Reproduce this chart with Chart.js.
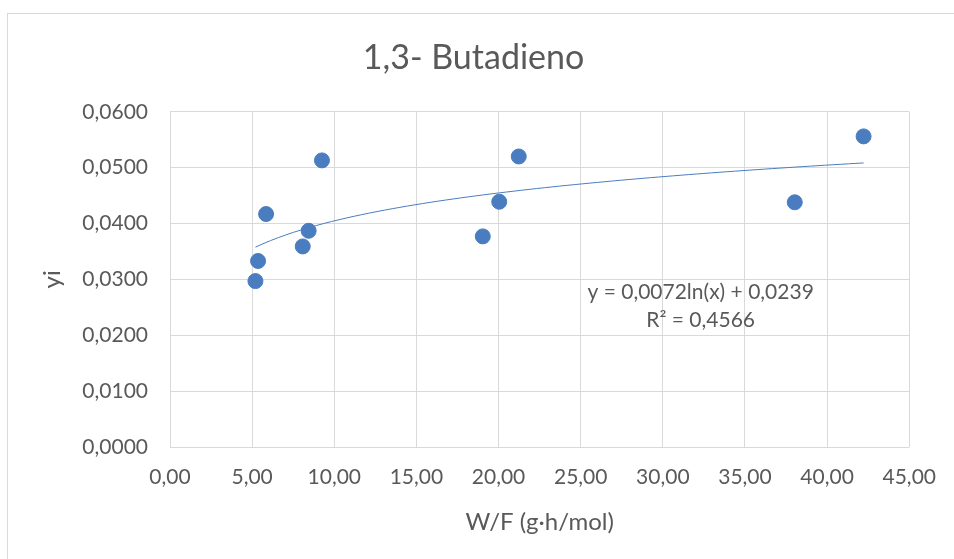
<!DOCTYPE html>
<html>
<head>
<meta charset="utf-8">
<script src="https://cdn.jsdelivr.net/npm/chart.js@4"></script>
<style>
  html, body { margin: 0; padding: 0; background: #fff; }
  #wrap { position: relative; width: 954px; height: 559px; overflow: hidden; }
  #frame { position: absolute; left: 7px; top: 13px; width: 1000px; height: 600px; border: 1px solid #d9d9d9; box-sizing: border-box; }
  canvas { position: absolute; left: 0; top: 0; }
</style>
</head>
<body>
<div id="wrap">
  <div id="frame"></div>
  <canvas id="chart" width="954" height="559"></canvas>
</div>
<script>
// W/F (g·h/mol) against mole fraction of 1,3-butadiene
const wf = [5.20, 5.36, 5.85, 8.08, 8.44, 9.25, 19.04, 20.04, 21.23, 38.03, 42.22];
const yi = [0.0297, 0.0333, 0.0417, 0.0359, 0.0387, 0.0513, 0.0377, 0.0439, 0.0520, 0.0438, 0.0556];

// logarithmic trendline as reported: y = a ln(x) + b
const trendA = 0.0072;
const trendB = 0.0239;
const trendLabel = ['y = 0,0072ln(x) + 0,0239', 'R² = 0,4566'];

const xTicks = [0, 5, 10, 15, 20, 25, 30, 35, 40, 45];
const yTicks = [0, 0.01, 0.02, 0.03, 0.04, 0.05, 0.06];

const FONT = 'Lato, "Open Sans", sans-serif';
const GREY = '#595959';
const BLUE = '#4a7cc0';

const points = wf.map((x, i) => ({ x: x, y: yi[i] }));

const xMin = Math.min(...wf), xMax = Math.max(...wf);
const trend = [];
for (let i = 0; i <= 80; i++) {
  const x = xMin + (xMax - xMin) * i / 80;
  trend.push({ x: x, y: trendA * Math.log(x) + trendB });
}

const comma = (v, d) => v.toFixed(d).replace('.', ',');

// equation text under the curve, right half of the plot
const equationPlugin = {
  id: 'equation',
  afterDatasetsDraw(chart) {
    const { ctx, scales } = chart;
    const cx = scales.x.getPixelForValue(32.3);
    const cy = scales.y.getPixelForValue(0.0277);
    ctx.save();
    ctx.font = '21px ' + FONT;
    ctx.fillStyle = GREY;
    ctx.textAlign = 'center';
    ctx.textBaseline = 'middle';
    ctx.fillText(trendLabel[0], cx, cy);
    ctx.fillText(trendLabel[1], cx, cy + 28);
    ctx.restore();
  }
};

new Chart(document.getElementById('chart'), {
  type: 'scatter',
  data: {
    datasets: [
      {
        label: 'yi',
        data: points,
        backgroundColor: BLUE,
        borderColor: BLUE,
        pointRadius: 7.5,
        pointHoverRadius: 7.5,
        order: 1
      },
      {
        label: 'Log.',
        type: 'line',
        data: trend,
        borderColor: BLUE,
        borderWidth: 1,
        pointRadius: 0,
        fill: false,
        tension: 0,
        order: 2
      }
    ]
  },
  options: {
    responsive: false,
    animation: false,
    layout: { padding: { left: 34, right: 41, top: 0, bottom: 20 } },
    plugins: {
      legend: { display: false },
      tooltip: { enabled: false },
      title: {
        display: true,
        text: '1,3- Butadieno',
        color: GREY,
        font: { family: FONT, size: 34, weight: 'normal' },
        padding: { top: 38, bottom: 33 }
      }
    },
    scales: {
      x: {
        type: 'linear',
        min: 0,
        max: 45,
        afterBuildTicks: s => { s.ticks = xTicks.map(v => ({ value: v })); },
        afterFit: s => { s.height = 92; },
        ticks: {
          color: GREY,
          font: { family: FONT, size: 21 },
          padding: 18,
          callback: v => comma(v, 2)
        },
        grid: { color: '#d9d9d9', lineWidth: 1, drawTicks: false },
        border: { display: false },
        title: {
          display: true,
          text: 'W/F (g·h/mol)',
          color: GREY,
          font: { family: FONT, size: 24 },
          padding: { top: 10, bottom: 2 }
        }
      },
      y: {
        min: 0,
        max: 0.06,
        afterBuildTicks: s => { s.ticks = yTicks.map(v => ({ value: v })); },
        afterFit: s => { s.width = 136; },
        ticks: {
          color: GREY,
          font: { family: FONT, size: 21 },
          padding: 22,
          callback: v => comma(v, 4)
        },
        grid: { color: '#d9d9d9', lineWidth: 1, drawTicks: false },
        border: { display: false },
        title: {
          display: true,
          text: 'yi',
          color: GREY,
          font: { family: FONT, size: 24 },
          padding: { bottom: 4 }
        }
      }
    }
  },
  plugins: [equationPlugin]
});
</script>
</body>
</html>
